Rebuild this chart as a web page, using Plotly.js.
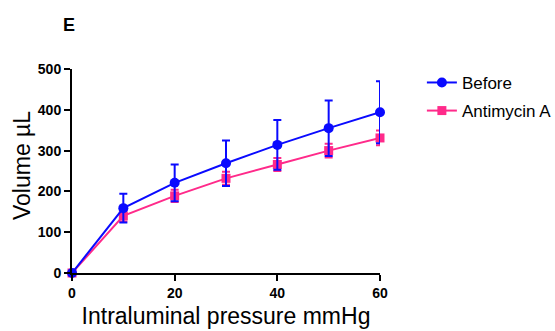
<!DOCTYPE html>
<html><head><meta charset="utf-8">
<script src="https://cdn.plot.ly/plotly-3.0.1.min.js"></script>
<style>html,body{margin:0;padding:0;background:#fff}#chart{width:555px;height:331px}</style>
</head><body><div id="chart"></div>
<script>
const pressure = [0, 10, 20, 30, 40, 50, 60];
const beforeVals = [0, 159, 221, 269, 314, 355, 394];
const beforeErr = [0, 35, 45, 56, 61, 68, 76];
const antimycinVals = [0, 140, 189, 232, 266, 300, 331];
const antimycinErr = [0, 14, 15, 16, 16, 17, 18];
const xTicks = [0, 20, 40, 60];
const yTicks = [0, 100, 200, 300, 400, 500];

const pink = '#ff2a8a', blue = '#0a0aff';
const traces = [
  {x: pressure, y: antimycinVals, name: 'Antimycin A', mode: 'lines+markers', legendrank: 2, legendgroup: 'b',
   line: {color: pink, width: 2}, marker: {symbol: 'square', size: 9, color: pink},
   error_y: {type: 'data', array: antimycinErr, color: pink, thickness: 2, width: 4}, cliponaxis: false},
  {x: pressure, y: beforeVals, name: 'Before', mode: 'lines+markers', legendrank: 1, legendgroup: 'a',
   line: {color: blue, width: 2}, marker: {symbol: 'circle', size: 10, color: blue},
   error_y: {type: 'data', array: beforeErr, color: blue, thickness: 2, width: 4}, cliponaxis: false}
];
const fam = 'Liberation Sans, Arial, sans-serif';
const tickFont = {family: fam, size: 14, color: '#000', weight: 'bold'};
const layout = {
  width: 555, height: 331,
  margin: {l: 72, r: 175, t: 69, b: 58, autoexpand: false},
  paper_bgcolor: '#fff', plot_bgcolor: '#fff',
  showlegend: true,
  legend: {x: 1.136, y: 1.02, xanchor: 'left', yanchor: 'top', font: {family: fam, size: 17, color: '#000'}, itemwidth: 30, tracegroupgap: 3},
  xaxis: {range: [0, 60], tickvals: xTicks, ticktext: xTicks.map(String), showgrid: false, zeroline: false,
    showline: true, linecolor: '#000', linewidth: 2, ticks: 'outside', ticklen: 6, tickwidth: 2, tickcolor: '#000',
    tickfont: tickFont,
    title: {text: 'Intraluminal pressure mmHg', font: {family: fam, size: 23, color: '#000'}, standoff: 8}},
  yaxis: {range: [0, 500], tickvals: yTicks, ticktext: yTicks.map(String), showgrid: false, zeroline: false,
    showline: true, linecolor: '#000', linewidth: 2, ticks: 'outside', ticklen: 6, tickwidth: 2, tickcolor: '#000',
    tickfont: tickFont},
  annotations: [
    {text: 'E', xref: 'paper', yref: 'paper', x: -0.01, y: 1.216, xanchor: 'center', yanchor: 'middle', showarrow: false,
     font: {family: fam, size: 18, color: '#000', weight: 'bold'}},
    {text: 'Volume µL', xref: 'paper', yref: 'paper', x: -0.162, y: 0.525, xanchor: 'center', yanchor: 'middle', textangle: -90, showarrow: false,
     font: {family: fam, size: 23, color: '#000'}}
  ]
};
Plotly.newPlot('chart', traces, layout, {displayModeBar: false, staticPlot: true});
</script></body></html>
